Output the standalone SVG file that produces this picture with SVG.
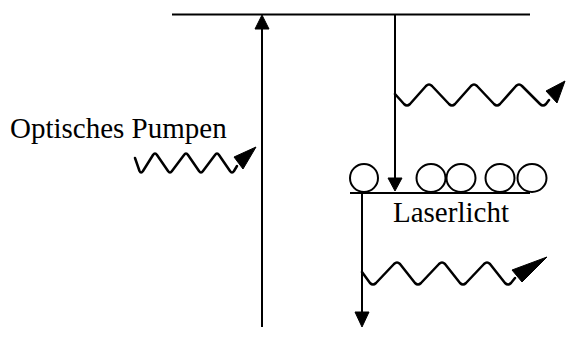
<svg xmlns="http://www.w3.org/2000/svg" width="569" height="358" viewBox="0 0 569 358">
<style>
.ln{stroke:#000;stroke-width:2;fill:none}
.wv{stroke:#000;stroke-width:2.5;fill:none;stroke-linejoin:round;stroke-linecap:round}
.hd{fill:#000;stroke:#000;stroke-width:1;stroke-linejoin:miter}
.ci{stroke:#000;stroke-width:2;fill:none}
.tx{font-family:"Liberation Serif","Times New Roman",serif;font-size:29px;fill:#000}
</style>
<g id="level-upper">
<line class="ln" x1="172" y1="14.5" x2="530" y2="14.5"/>
</g>
<g id="level-lower">
<line class="ln" x1="350" y1="193" x2="530" y2="193"/>
<ellipse class="ci" cx="364" cy="178" rx="14" ry="14"/>
<ellipse class="ci" cx="431" cy="178" rx="14.5" ry="14"/>
<ellipse class="ci" cx="461" cy="178" rx="14.5" ry="14"/>
<ellipse class="ci" cx="500" cy="178" rx="14.5" ry="14"/>
<ellipse class="ci" cx="532" cy="178" rx="14.5" ry="14"/>
<text class="tx" x="393" y="222">Laserlicht</text>
</g>
<g id="label-pump">
<text class="tx" x="10" y="138">Optisches Pumpen</text>
</g>
<g id="connectors">
<line class="ln" x1="262" y1="327" x2="262" y2="28"/>
<polygon class="hd" points="262,15 255,29 269,29"/>
<line class="ln" x1="395" y1="15" x2="395" y2="180"/>
<polygon class="hd" points="395,191 388,178 402,178"/>
<line class="ln" x1="362" y1="193" x2="362" y2="314"/>
<polygon class="hd" points="362,327 355,312 369,312"/>
<path class="wv" d="M395,94 L404,104 Q407,107 410,104 L426,86 Q429,83 432,86 L449,104 Q452,107 455,104 L471,86 Q474,83 477,86 L494,104 Q497,107 500,104 L516,86 Q519,83 522,86 L540,104 Q543,107 546,104 L549,100"/>
<polygon class="hd" points="565,81 546,91 557,103"/>
<path class="wv" d="M135,158 L139.5,171 Q141,174 143,171 L153,155 Q155,152 157,155 L168,171 Q170,174 172,171 L184,155 Q186,152 188,155 L199,171 Q201,174 203,171 L215,155 Q217,152 219,155 L230,171 Q232,174 234,171 L237,166"/>
<polygon class="hd" points="256,147 234,157 243,169"/>
<path class="wv" d="M362,272 L370,283 Q373,286 376,283 L394,264 Q397,261 400,264 L415,283 Q418,286 421,283 L439,264 Q442,261 445,264 L460,283 Q463,286 466,283 L484,264 Q487,261 490,264 L505,283 Q508,286 511,283 L515,278"/>
<polygon class="hd" points="547,257 512,270 522,282"/>
</g>
</svg>
